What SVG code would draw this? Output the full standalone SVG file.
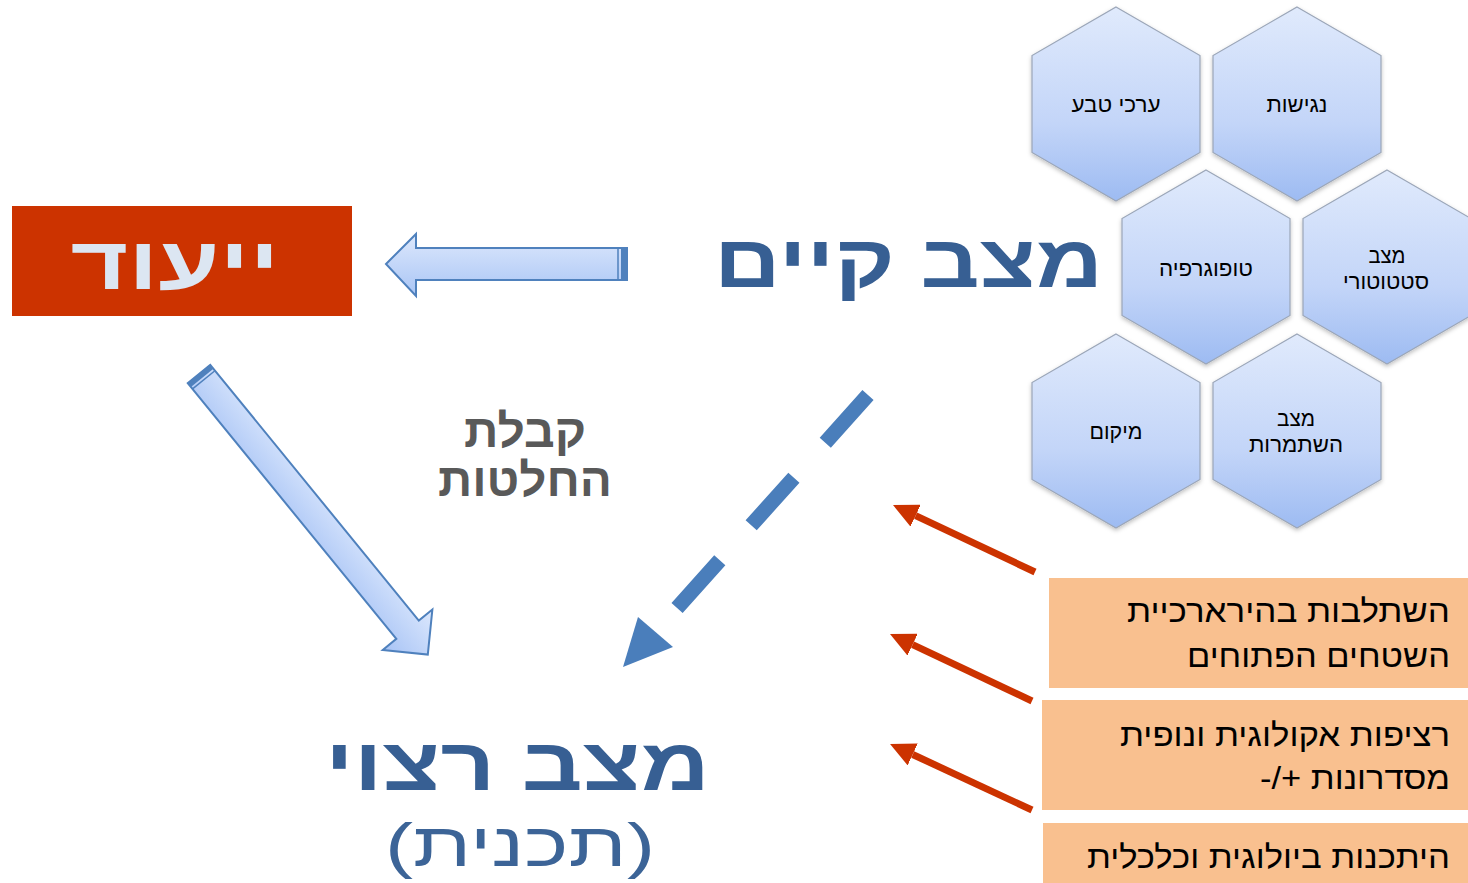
<svg xmlns="http://www.w3.org/2000/svg" width="1468" height="883" viewBox="0 0 1468 883">
<defs>
<linearGradient id="hexg" x1="0" y1="0" x2="0" y2="1">
<stop offset="0" stop-color="#e0eafc"/>
<stop offset="0.6" stop-color="#c3d5f8"/>
<stop offset="1" stop-color="#9dbbf2"/>
</linearGradient>
<linearGradient id="arrg" x1="0" y1="0" x2="0" y2="1">
<stop offset="0" stop-color="#dde8fc"/>
<stop offset="1" stop-color="#a9c5f5"/>
</linearGradient>
<linearGradient id="arrd" x1="0" y1="0" x2="0" y2="1">
<stop offset="0" stop-color="#dce8fd"/>
<stop offset="1" stop-color="#a7c3f5"/>
</linearGradient>
<filter id="sh" x="-10%" y="-10%" width="120%" height="125%">
<feDropShadow dx="0" dy="2" stdDeviation="2" flood-color="#000" flood-opacity="0.25"/>
</filter>
<polygon id="hex" points="0,-97 84,-48.5 84,48.5 0,97 -84,48.5 -84,-48.5"/>
<marker id="rh" markerUnits="userSpaceOnUse" viewBox="0 0 25 24" markerWidth="25" markerHeight="24" refX="0" refY="12" orient="auto">
<path d="M0,0 L25,12 L0,24 Z" fill="#cc3300"/>
</marker>
</defs>
<style>
.hex{fill:url(#hexg);stroke:#9ba6b8;stroke-width:1.2;filter:url(#sh)}
text{font-family:"Liberation Sans",Arial,sans-serif}
.ht{font-size:22.5px;fill:#000;text-anchor:middle}
.big{font-weight:bold;fill:#375f93;text-anchor:middle}
.bt{font-size:32px;fill:#000;text-anchor:end}
.kb{font-weight:bold;font-size:46px;fill:#595959;text-anchor:middle}
.box{fill:#f9c08f}
.red{stroke:#cc3300;stroke-width:7;fill:none;marker-end:url(#rh)}
</style>
<rect width="1468" height="883" fill="#fff"/>

<g id="hex-arachei-teva"><use href="#hex" class="hex" x="1116" y="104"/><text class="ht" x="1116" y="112" textLength="89" lengthAdjust="spacingAndGlyphs">ערכי טבע</text></g>
<g id="hex-negishut"><use href="#hex" class="hex" x="1297" y="104"/><text class="ht" x="1297" y="112" textLength="61" lengthAdjust="spacingAndGlyphs">נגישות</text></g>
<g id="hex-topografia"><use href="#hex" class="hex" x="1206" y="267"/><text class="ht" x="1206" y="276" textLength="94" lengthAdjust="spacingAndGlyphs">טופוגרפיה</text></g>
<g id="hex-statutory"><use href="#hex" class="hex" x="1387" y="267"/><text class="ht" x="1387" y="263" textLength="37" lengthAdjust="spacingAndGlyphs">מצב</text><text class="ht" x="1386" y="289" textLength="86" lengthAdjust="spacingAndGlyphs">סטטוטורי</text></g>
<g id="hex-mikum"><use href="#hex" class="hex" x="1116" y="431"/><text class="ht" x="1116" y="439" textLength="53" lengthAdjust="spacingAndGlyphs">מיקום</text></g>
<g id="hex-shimur"><use href="#hex" class="hex" x="1297" y="431"/><text class="ht" x="1296" y="426" textLength="38" lengthAdjust="spacingAndGlyphs">מצב</text><text class="ht" x="1296" y="452" textLength="94" lengthAdjust="spacingAndGlyphs">השתמרות</text></g>

<g id="yeud"><rect x="12" y="206" width="340" height="110" fill="#cc3300"/><text class="big" x="175" y="289" font-size="74" style="fill:#dce6f2" textLength="209" lengthAdjust="spacingAndGlyphs">ייעוד</text></g>
<g id="matzav-kayam"><text class="big" x="908.5" y="287" font-size="74" textLength="389" lengthAdjust="spacingAndGlyphs">מצב קיים</text></g>
<g id="kabalat"><text class="kb" x="525" y="447" textLength="122" lengthAdjust="spacingAndGlyphs">קבלת</text><text class="kb" x="525" y="496" textLength="174" lengthAdjust="spacingAndGlyphs">החלטות</text></g>
<g id="matzav-ratzui"><text class="big" x="517.5" y="790" font-size="74" textLength="385" lengthAdjust="spacingAndGlyphs">מצב רצוי</text><text x="520" y="866" font-size="62" fill="#3c6497" text-anchor="middle" textLength="270" lengthAdjust="spacingAndGlyphs">(תכנית)</text></g>

<g id="box-hierarchy"><rect class="box" x="1049" y="578" width="419" height="110"/><text class="bt" x="1450" y="622" textLength="323" lengthAdjust="spacingAndGlyphs">השתלבות בהירארכיית</text><text class="bt" x="1450" y="667" textLength="263" lengthAdjust="spacingAndGlyphs">השטחים הפתוחים</text></g>
<g id="box-continuity"><rect class="box" x="1042" y="700" width="426" height="110"/><text class="bt" x="1450" y="746" textLength="330" lengthAdjust="spacingAndGlyphs">רציפות אקולוגית ונופית</text><text class="bt" x="1450" y="789" textLength="190" lengthAdjust="spacingAndGlyphs">-/+ מסדרונות</text></g>
<g id="box-feasibility"><rect class="box" x="1043" y="823" width="425" height="60"/><text class="bt" x="1450" y="868" textLength="363" lengthAdjust="spacingAndGlyphs">היתכנות ביולוגית וכלכלית</text></g>

<g id="connectors">
<g id="arrow-left">
<path d="M386,264 L416,234 L416,248 L627,248 L627,280 L416,280 L416,296 Z" fill="url(#arrg)" stroke="#4f81bd" stroke-width="2" stroke-linejoin="miter"/>
<rect x="621" y="248" width="6" height="32" fill="#4f81bd"/>
<line x1="618" y1="249" x2="618" y2="279" stroke="#4f81bd" stroke-width="1.5"/>
</g>
<g id="arrow-diag" transform="translate(199,374) rotate(50.8)">
<path d="M0,-14.5 L330,-14.5 L330,-32 L362,0 L330,32 L330,14.5 L0,14.5 Z" fill="url(#arrd)" stroke="#4f81bd" stroke-width="2"/>
<rect x="0" y="-14.5" width="5" height="29" fill="#4f81bd"/>
<line x1="7.5" y1="-14" x2="7.5" y2="14" stroke="#4f81bd" stroke-width="1.5"/>
</g>
<g id="arrow-dashed">
<line x1="868" y1="395" x2="655.5" y2="632" stroke="#4a7ebb" stroke-width="15" stroke-dasharray="64 47"/>
<polygon points="623,667 638,617 673,647" fill="#4a7ebb"/>
</g>
<path class="red" d="M1035,572 L915.6,515.7"/>
<path class="red" d="M1032,701 L912.6,644.7"/>
<path class="red" d="M1032,810 L912.7,754.5"/>
</g>
</svg>
